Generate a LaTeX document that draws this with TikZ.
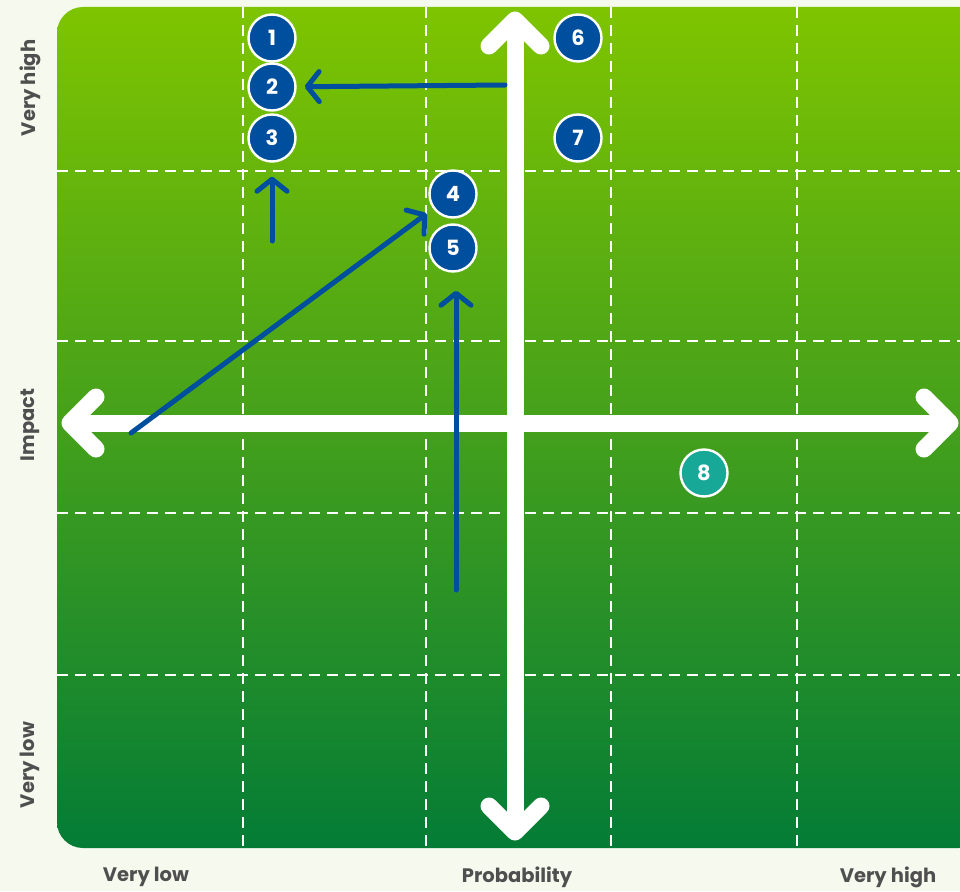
\documentclass[tikz,border=0pt]{standalone}
\usepackage{fontspec}
\setmainfont{Poppins}[BoldFont={Poppins Bold}]
\usetikzlibrary{arrows.meta}
\definecolor{bgc}{HTML}{F6FAEE}
\definecolor{gtop}{RGB}{126,196,0}
\definecolor{gmid}{RGB}{68,160,28}
\definecolor{gbot}{RGB}{4,124,54}
\definecolor{dotblue}{HTML}{004F9F}
\definecolor{dotteal}{HTML}{17A898}
\definecolor{labgrey}{HTML}{4F4F4F}
\tikzset{
  grid line/.style={white, line width=2.4pt, dash pattern=on 11pt off 7pt},
  axis/.style={white, line width=17pt},
  axis head/.style={white, line width=17pt, line cap=round, line join=round},
  dot/.style={circle, fill=dotblue, draw=white, line width=2.4pt, minimum size=47pt, inner sep=0pt, text=white, font=\bfseries\fontsize{21}{21}\selectfont},
  tealdot/.style={dot, fill=dotteal},
  move/.style={dotblue, line width=5pt, line cap=round, -{Straight Barb[length=12pt, width=30pt, line width=5pt, round]}},
  axlabel/.style={text=labgrey, font=\bfseries\fontsize{19.5}{19.5}\selectfont}
}
\begin{document}
\begin{tikzpicture}[x=1pt,y=-1pt]
\useasboundingbox (0,0) rectangle (960,891);
\fill[bgc] (0,0) rectangle (960,891);
\begin{scope}
\clip (0,0) rectangle (960,891);
\shade[top color=gtop, bottom color=gbot, middle color=gmid, rounded corners=26pt] (57,7) rectangle (985,848);
% grid
\foreach \x in {243,426,611,797} \draw[grid line] (\x,7) -- (\x,848);
\foreach \y in {171,341,513,675} \draw[grid line] (57,\y) -- (960,\y);
% axes
\coordinate (vt) at (515,20);
\coordinate (vb) at (515,832);
\coordinate (hl) at (70,423);
\coordinate (hr) at (950,423);
\draw[axis] (vt) -- (vb);
\draw[axis] (hl) -- (hr);
\draw[axis head] ([shift={(-26,26)}]vt) -- (vt) -- ([shift={(26,26)}]vt);
\draw[axis head] ([shift={(-26,-26)}]vb) -- (vb) -- ([shift={(26,-26)}]vb);
\draw[axis head] ([shift={(26,-26)}]hl) -- (hl) -- ([shift={(26,26)}]hl);
\draw[axis head] ([shift={(-26,-26)}]hr) -- (hr) -- ([shift={(-26,26)}]hr);
\end{scope}
% dots
\node[dot] (c1) at (272,38) {1};
\node[dot] (c2) at (272,87) {2};
\node[dot] (c3) at (272,138) {3};
\node[dot] (c4) at (453,194) {4};
\node[dot] (c5) at (453,248) {5};
\node[dot] (c6) at (578,38) {6};
\node[dot] (c7) at (578,138) {7};
\node[tealdot] (c8) at (704,473) {8};
% movements
\coordinate (m2) at (505,85);
\coordinate (m3) at (272,241);
\coordinate (m4) at (131,433);
\coordinate (m5) at (456,590);
\draw[move, shorten >=8pt] (m2) -- (c2);
\draw[move, shorten >=14pt] (m3) -- (c3);
\draw[move, shorten >=8pt] (m4) -- (c4);
\draw[move, shorten >=18pt] (m5) -- (c5.south -| m5);
% labels
\node[axlabel, rotate=90] (lvh) at (30,88) {Very high};
\node[axlabel, rotate=90] (limp) at (30,425) {Impact};
\node[axlabel, rotate=90] (lvl) at (30,765) {Very low};
\node[axlabel] (bvl) at (146,877) {Very low};
\node[axlabel] (bpr) at (517,877) {Probability};
\node[axlabel] (bvh) at (888,877) {Very high};
\end{tikzpicture}
\end{document}
